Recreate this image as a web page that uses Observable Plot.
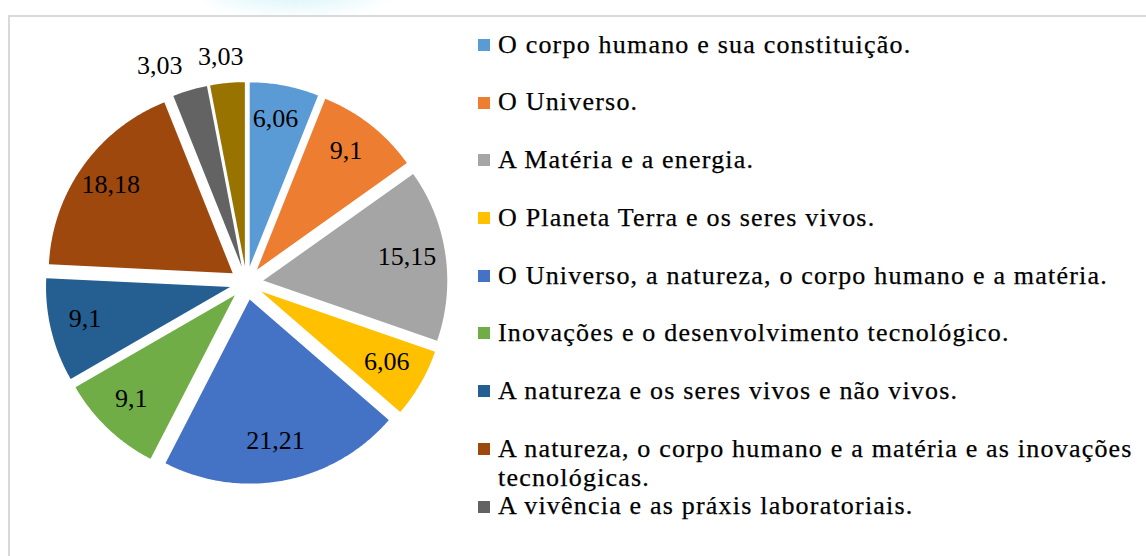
<!DOCTYPE html>
<html>
<head>
<meta charset="utf-8">
<script src="https://cdn.jsdelivr.net/npm/d3@7"></script>
<script src="https://cdn.jsdelivr.net/npm/@observablehq/plot@0.6"></script>
<style>
  html, body { margin: 0; padding: 0; background: #fff; overflow: hidden; }
  #wrap { position: relative; width: 1146px; height: 556px; overflow: hidden; font-family: 'Liberation Serif', 'DejaVu Serif', serif; }
  #glow { position: absolute; left: 200px; top: -40px; width: 190px; height: 55px; border-radius: 50%;
          background: radial-gradient(ellipse at center, rgba(200,240,248,0.9) 0%, rgba(225,247,251,0.6) 50%, rgba(255,255,255,0) 100%); filter: blur(6px); }
  #frame { position: absolute; left: 8px; top: 15px; width: 2000px; height: 2000px; border: 2px solid #d9d9d9; box-sizing: border-box; background: #fff; }
  #chart { position: absolute; left: 0; top: 0; }
  #legend { position: absolute; left: 0; top: 0; width: 1146px; height: 556px; pointer-events: none; }
  .item { position: absolute; left: 478px; white-space: nowrap; font-family: 'Liberation Serif', 'DejaVu Serif', serif; font-size: 26px; line-height: 29px; color: #000; letter-spacing: 1.2px; -webkit-text-stroke: 0.25px #000; }
  .sw { position: absolute; left: 0; width: 12px; height: 12px; }
  .tx { position: absolute; left: 20px; top: 0; }
  svg text { font-family: 'Liberation Serif', 'DejaVu Serif', serif; }
</style>
</head>
<body>
<div id="wrap">
  <div id="glow"></div>
  <div id="frame"></div>
  <div id="chart"></div>
  <div id="legend"></div>
</div>
<script>
// ---- data ----
const categories = ["c1","c2","c3","c4","c5","c6","c7","c8","c9","c10"];
const values = [6.06, 9.1, 15.15, 6.06, 21.21, 9.1, 9.1, 18.18, 3.03, 3.03];
const colors = ["#5B9BD5","#ED7D31","#A5A5A5","#FFC000","#4472C4","#70AD47","#255E91","#9E480E","#636363","#997300"];
const legendLabels = [
  "O corpo humano e sua constituição.",
  "O Universo.",
  "A Matéria e a energia.",
  "O Planeta Terra e os seres vivos.",
  "O Universo, a natureza, o corpo humano e a matéria.",
  "Inovações e o desenvolvimento tecnológico.",
  "A natureza e os seres vivos e não vivos.",
  "A natureza, o corpo humano e a matéria e as inovações\ntecnológicas.",
  "A vivência e as práxis laboratoriais."
];

// ---- geometry derived from data ----
const explode = 0.092;
const arcs = d3.pie().sort(null).value(d => d.v)(values.map((v, i) => ({v, cat: categories[i]})));
const slicePts = [];
const labels = [];
arcs.forEach(a => {
  const mid = (a.startAngle + a.endAngle) / 2;
  const ox = explode * Math.sin(mid), oy = explode * Math.cos(mid);
  const cat = a.data.cat;
  slicePts.push({cat, x: ox, y: oy});
  const n = Math.max(2, Math.ceil((a.endAngle - a.startAngle) / 0.01));
  for (let k = 0; k <= n; k++) {
    const t = a.startAngle + (a.endAngle - a.startAngle) * k / n;
    slicePts.push({cat, x: ox + Math.sin(t), y: oy + Math.cos(t)});
  }
  const inside = a.data.v >= 5;
  const r = inside ? explode + 0.8 : 1.25;
  labels.push({cat, inside, x: r * Math.sin(mid), y: r * Math.cos(mid), text: String(a.data.v).replace(".", ",")});
});

const FONT = "'Liberation Serif', 'DejaVu Serif', serif";
const chart = Plot.plot({
  width: 1146,
  height: 556,
  margin: 0,
  x: {domain: [-1, 1], range: [62, 430], axis: null},
  y: {domain: [-1, 1], range: [466.5, 98.5], axis: null},
  color: {domain: categories, range: colors},
  style: {background: "transparent", fontFamily: FONT},
  marks: [
    Plot.line(slicePts, {x: "x", y: "y", z: "cat", fill: "cat", stroke: null, curve: "linear"}),
    Plot.text(labels.filter(d => d.inside), {x: "x", y: "y", text: "text", fontSize: 26, fontFamily: FONT, fill: "#000", dx: -2, dy: -3}),
    Plot.text(labels.filter(d => d.cat === "c9"), {x: "x", y: "y", text: "text", fontSize: 26, fontFamily: FONT, fill: "#000", dx: -22, dy: 3}),
    Plot.text(labels.filter(d => d.cat === "c10"), {x: "x", y: "y", text: "text", fontSize: 26, fontFamily: FONT, fill: "#000", dx: -4, dy: 3})
  ]
});
document.getElementById("chart").appendChild(chart);

// ---- legend ----
const legend = document.getElementById("legend");
legendLabels.forEach((label, i) => {
  const c = 45 + i * 57.7;
  const item = document.createElement("div");
  item.className = "item";
  item.style.top = (c - 15.3) + "px";
  const sw = document.createElement("div");
  sw.className = "sw";
  sw.style.top = (15.3 - 6) + "px";
  sw.style.background = colors[i];
  const tx = document.createElement("div");
  tx.className = "tx";
  label.split("\n").forEach((line) => {
    const ln = document.createElement("div");
    ln.textContent = line;
    tx.appendChild(ln);
  });
  item.appendChild(sw);
  item.appendChild(tx);
  legend.appendChild(item);
});
</script>
</body>
</html>
